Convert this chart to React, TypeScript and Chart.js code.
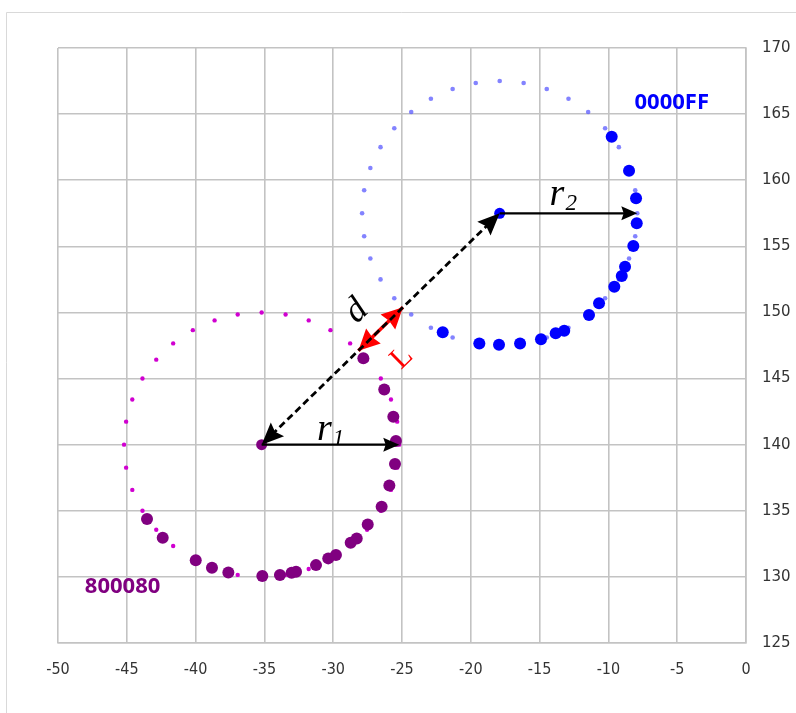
import React, { useEffect, useRef } from "react";
import { Chart, registerables } from "chart.js";

Chart.register(...registerables);

// Axis ranges / ticks
const xMin = -50;
const xMax = 0;
const xStep = 5;
const yMin = 125;
const yMax = 170;
const yStep = 5;

// Circle centres and radii
const purpleCenter: number[] = [-35.2, 140];
const blueCenter: number[] = [-17.9, 157.5];
const purpleRadius = 10;
const blueRadius = 10;

// Small outline points (purple circle)
const purpleOutline: number[][] = [
  [-25.2, 140], [-25.35, 141.74], [-25.8, 143.42], [-26.54, 145], [-27.54, 146.43],
  [-28.77, 147.66], [-30.2, 148.66], [-31.78, 149.4], [-33.46, 149.85], [-35.2, 150],
  [-36.94, 149.85], [-38.62, 149.4], [-40.2, 148.66], [-41.63, 147.66], [-42.86, 146.43],
  [-43.86, 145], [-44.6, 143.42], [-45.05, 141.74], [-45.2, 140], [-45.05, 138.26],
  [-44.6, 136.58], [-43.86, 135], [-42.86, 133.57], [-41.63, 132.34], [-40.2, 131.34],
  [-38.62, 130.6], [-36.94, 130.15], [-35.2, 130], [-33.46, 130.15], [-31.78, 130.6],
  [-30.2, 131.34], [-28.77, 132.34], [-27.54, 133.57], [-26.54, 135], [-25.8, 136.58],
  [-25.35, 138.26],
];

// Small outline points (blue circle)
const blueOutline: number[][] = [
  [-7.9, 157.5], [-8.05, 159.24], [-8.5, 160.92], [-9.24, 162.5], [-10.24, 163.93],
  [-11.47, 165.16], [-12.9, 166.16], [-14.48, 166.9], [-16.16, 167.35], [-17.9, 167.5],
  [-19.64, 167.35], [-21.32, 166.9], [-22.9, 166.16], [-24.33, 165.16], [-25.56, 163.93],
  [-26.56, 162.5], [-27.3, 160.92], [-27.75, 159.24], [-27.9, 157.5], [-27.75, 155.76],
  [-27.3, 154.08], [-26.56, 152.5], [-25.56, 151.07], [-24.33, 149.84], [-22.9, 148.84],
  [-21.32, 148.1], [-19.64, 147.65], [-17.9, 147.5], [-16.16, 147.65], [-14.48, 148.1],
  [-12.9, 148.84], [-11.47, 149.84], [-10.24, 151.07], [-9.24, 152.5], [-8.5, 154.08],
  [-8.05, 155.76],
];

// Large measured points (purple, 800080)
const purplePoints: number[][] = [
  [-27.81, 146.53], [-26.29, 144.18], [-25.63, 142.11], [-25.44, 140.27], [-25.51, 138.53],
  [-25.92, 136.92], [-26.48, 135.3], [-27.49, 133.97], [-28.29, 132.91], [-28.73, 132.58],
  [-29.8, 131.65], [-30.36, 131.4], [-31.25, 130.89], [-32.7, 130.39], [-33.02, 130.31],
  [-33.87, 130.14], [-35.15, 130.06], [-37.62, 130.34], [-38.81, 130.69], [-39.99, 131.25],
  [-42.39, 132.96], [-43.53, 134.37],
];

// Large measured points (blue, 0000FF)
const bluePoints: number[][] = [
  [-9.76, 163.29], [-8.5, 160.72], [-7.99, 158.63], [-7.94, 156.74], [-8.19, 155.02],
  [-8.79, 153.46], [-9.03, 152.75], [-9.57, 151.94], [-10.68, 150.69], [-11.41, 149.8],
  [-13.21, 148.62], [-13.83, 148.42], [-14.9, 147.97], [-16.42, 147.66], [-17.95, 147.56],
  [-19.38, 147.66], [-22.04, 148.5],
];

// Text labels (data coordinates)
const labelD: number[] = [-28.3, 150.1];
const labelL: number[] = [-25.0, 146.55];
const labelR1: number[] = [-30.3, 140.95];
const labelR2: number[] = [-13.4, 158.75];
const labelBlue: number[] = [-8.1, 165.84];
const labelPurple: number[] = [-48.05, 129.23];

const toXY = (arr: number[][]) => arr.map((p) => ({ x: p[0], y: p[1] }));

function arrowHead(ctx: CanvasRenderingContext2D, fx: number, fy: number, tx: number, ty: number, len: number, hw: number, color: string, notch = 0.78) {
  const a = Math.atan2(ty - fy, tx - fx);
  ctx.save();
  ctx.translate(tx, ty);
  ctx.rotate(a);
  ctx.fillStyle = color;
  ctx.beginPath();
  ctx.moveTo(0, 0);
  ctx.lineTo(-len, hw);
  ctx.lineTo(-len * notch, 0);
  ctx.lineTo(-len, -hw);
  ctx.closePath();
  ctx.fill();
  ctx.restore();
}

const framePlugin = {
  id: "frame",
  beforeDraw(chart: any) {
    const { ctx, width, height } = chart;
    ctx.save();
    ctx.fillStyle = "#ffffff";
    ctx.fillRect(0, 0, width, height);
    ctx.strokeStyle = "#d9d9d9";
    ctx.lineWidth = 1;
    ctx.beginPath();
    ctx.moveTo(6.5, height);
    ctx.lineTo(6.5, 12.5);
    ctx.lineTo(width, 12.5);
    ctx.stroke();
    ctx.restore();
  },
};

const annotPlugin = {
  id: "annot",
  afterDatasetsDraw(chart: any) {
    const { ctx } = chart;
    const xs = chart.scales.x;
    const ys = chart.scales.y;
    const P = (p: number[]) => [xs.getPixelForValue(p[0]), ys.getPixelForValue(p[1])];

    const pc = P(purpleCenter);
    const bc = P(blueCenter);
    const dx = blueCenter[0] - purpleCenter[0];
    const dy = blueCenter[1] - purpleCenter[1];
    const dist = Math.sqrt(dx * dx + dy * dy);
    const ux = dx / dist;
    const uy = dy / dist;
    const pe = P([purpleCenter[0] + purpleRadius * ux, purpleCenter[1] + purpleRadius * uy]);
    const be = P([blueCenter[0] - blueRadius * ux, blueCenter[1] - blueRadius * uy]);
    const r1 = P([purpleCenter[0] + purpleRadius, purpleCenter[1]]);
    const r2 = P([blueCenter[0] + blueRadius, blueCenter[1]]);

    ctx.save();
    // red L arrow
    ctx.strokeStyle = "#ff0000";
    ctx.lineWidth = 3.5;
    ctx.beginPath();
    ctx.moveTo(pe[0], pe[1]);
    ctx.lineTo(be[0], be[1]);
    ctx.stroke();
    arrowHead(ctx, be[0], be[1], pe[0], pe[1], 21, 10.5, "#ff0000", 0.92);
    arrowHead(ctx, pe[0], pe[1], be[0], be[1], 21, 10.5, "#ff0000", 0.92);

    // dashed d line
    const ang = Math.atan2(bc[1] - pc[1], bc[0] - pc[0]);
    const off = 14;
    ctx.strokeStyle = "#000000";
    ctx.lineWidth = 2.8;
    ctx.setLineDash([7, 4]);
    ctx.beginPath();
    ctx.moveTo(pc[0] + Math.cos(ang) * off, pc[1] + Math.sin(ang) * off);
    ctx.lineTo(bc[0] - Math.cos(ang) * off, bc[1] - Math.sin(ang) * off);
    ctx.stroke();
    ctx.setLineDash([]);
    arrowHead(ctx, bc[0], bc[1], pc[0], pc[1], 22, 9.5, "#000000", 0.85);
    arrowHead(ctx, pc[0], pc[1], bc[0], bc[1], 22, 9.5, "#000000", 0.85);

    // r1 and r2 arrows
    ctx.lineWidth = 2.2;
    ctx.beginPath();
    ctx.moveTo(pc[0], pc[1]);
    ctx.lineTo(r1[0] - 10, r1[1]);
    ctx.moveTo(bc[0], bc[1]);
    ctx.lineTo(r2[0] - 10, r2[1]);
    ctx.stroke();
    arrowHead(ctx, pc[0], pc[1], r1[0], r1[1], 16, 7, "#000000", 0.85);
    arrowHead(ctx, bc[0], bc[1], r2[0], r2[1], 16, 7, "#000000", 0.85);

    // math labels
    const serifIt = "'Liberation Serif', 'DejaVu Serif', serif";
    const drawR = (pos: number[], sub: string) => {
      const p = P(pos);
      ctx.fillStyle = "#000000";
      ctx.textBaseline = "alphabetic";
      ctx.textAlign = "left";
      ctx.font = `italic 38px ${serifIt}`;
      ctx.fillText("r", p[0] - 12, p[1] + 8);
      const w = ctx.measureText("r").width;
      ctx.font = `italic 23px ${serifIt}`;
      ctx.fillText(sub, p[0] - 12 + w + 1, p[1] + 13);
    };
    drawR(labelR1, "1");
    drawR(labelR2, "2");

    const dp = P(labelD);
    ctx.save();
    ctx.translate(dp[0], dp[1]);
    ctx.rotate(ang);
    ctx.fillStyle = "#000000";
    ctx.font = `italic 36px ${serifIt}`;
    ctx.textAlign = "center";
    ctx.textBaseline = "middle";
    ctx.fillText("d", 0, 0);
    ctx.restore();

    const lp = P(labelL);
    ctx.save();
    ctx.translate(lp[0], lp[1]);
    ctx.rotate(ang);
    ctx.fillStyle = "#ff0000";
    ctx.font = `30px ${serifIt}`;
    ctx.textAlign = "center";
    ctx.textBaseline = "middle";
    ctx.fillText("L", 0, 0);
    ctx.restore();

    // series name labels
    const bl = P(labelBlue);
    const pl = P(labelPurple);
    ctx.font = "bold 22px 'Open Sans', 'Noto Sans', sans-serif";
    ctx.textAlign = "left";
    ctx.textBaseline = "middle";
    ctx.fillStyle = "#0000ff";
    ctx.fillText("0000FF", bl[0], bl[1]);
    ctx.fillStyle = "#800080";
    ctx.fillText("800080", pl[0], pl[1]);
    ctx.restore();
  },
};

export default function App() {
  const canvasRef = useRef<HTMLCanvasElement | null>(null);

  useEffect(() => {
    if (!canvasRef.current) return;
    const gridColor = "#c3c3c3";
    const chart = new Chart(canvasRef.current, {
      type: "scatter",
      data: {
        datasets: [
          {
            label: "800080 centre",
            data: toXY([purpleCenter]),
            backgroundColor: "#800080",
            borderWidth: 0,
            pointRadius: 5.5,
            order: 1,
          },
          {
            label: "0000FF centre",
            data: toXY([blueCenter]),
            backgroundColor: "#0000ff",
            borderWidth: 0,
            pointRadius: 5.5,
            order: 1,
          },
          {
            label: "800080",
            data: toXY(purplePoints),
            backgroundColor: "#800080",
            borderWidth: 0,
            pointRadius: 6,
            order: 1,
          },
          {
            label: "0000FF",
            data: toXY(bluePoints),
            backgroundColor: "#0000ff",
            borderWidth: 0,
            pointRadius: 6,
            order: 1,
          },
          {
            label: "800080 outline",
            data: toXY(purpleOutline),
            backgroundColor: "#d000d0",
            borderWidth: 0,
            pointRadius: 2.2,
            order: 2,
          },
          {
            label: "0000FF outline",
            data: toXY(blueOutline),
            backgroundColor: "rgba(90,90,255,0.75)",
            borderWidth: 0,
            pointRadius: 2.3,
            order: 2,
          },
        ],
      },
      options: {
        responsive: false,
        animation: false,
        events: [],
        layout: { padding: { left: 58, top: 48, right: 0, bottom: 0 } },
        plugins: {
          legend: { display: false },
          tooltip: { enabled: false },
        },
        scales: {
          x: {
            type: "linear",
            position: "bottom",
            min: xMin,
            max: xMax,
            afterFit: (s: any) => {
              s.height = 70;
            },
            ticks: {
              stepSize: xStep,
              padding: 17,
              color: "#333333",
              font: { family: "'Liberation Sans Narrow', 'DejaVu Sans Condensed', 'Liberation Sans', sans-serif", size: 16 },
              maxRotation: 0,
            },
            grid: { color: gridColor, lineWidth: 1.6, drawTicks: false },
            border: { color: gridColor, width: 1.6 },
          },
          y: {
            type: "linear",
            position: "right",
            min: yMin,
            max: yMax,
            afterFit: (s: any) => {
              s.width = 50;
            },
            ticks: {
              stepSize: yStep,
              padding: 16,
              color: "#333333",
              font: { family: "'DejaVu Sans', sans-serif", size: 15 },
            },
            grid: { color: gridColor, lineWidth: 1.6, drawTicks: false },
            border: { color: gridColor, width: 1.6 },
          },
        },
      },
      plugins: [framePlugin, annotPlugin],
    } as any);
    return () => chart.destroy();
  }, []);

  return (
    <div style={{ position: "absolute", left: 0, top: 0, width: 796, height: 713 }}>
      <canvas ref={canvasRef} width={796} height={713} style={{ display: "block" }} />
    </div>
  );
}
